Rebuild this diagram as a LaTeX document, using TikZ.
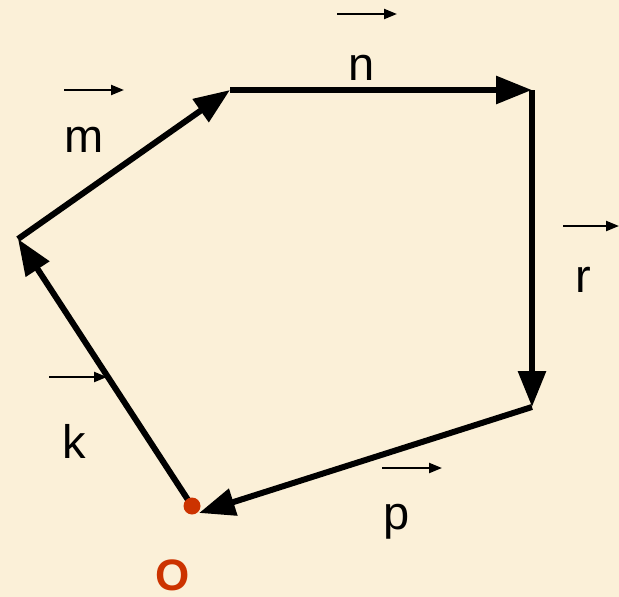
\documentclass[tikz,border=0pt]{standalone}
\usepackage{fontspec}
\setmainfont{Liberation Sans}
\usetikzlibrary{arrows.meta}
\definecolor{bgc}{HTML}{FBF0D8}
\definecolor{ored}{HTML}{CC3300}
\begin{document}
\begin{tikzpicture}[x=1pt,y=-1pt,
  vec/.style={line width=6pt,-{Triangle[length=36pt,width=27pt]}},
  small/.style={line width=2.2pt,-{Triangle[length=13pt,width=10pt]}},
  lbl/.style={inner sep=0pt,font=\fontsize{47}{50}\selectfont}]
\fill[bgc] (0,0) rectangle (619,597);
\useasboundingbox (0,0) rectangle (619,597);
\coordinate (O) at (192,506);
\coordinate (A) at (18,239);
\coordinate (B) at (230,90);
\coordinate (C) at (532,90);
\coordinate (D) at (532,407);
\coordinate (P) at (199,513);
\draw[vec] (O) -- (A);
\draw[vec] (A) -- (B);
\draw[vec] (B) -- (C);
\draw[vec] (C) -- (D);
\draw[vec] (D) -- (P);
\fill[ored] (O) circle (8.5pt);
% labels
\node[lbl] (ln) at (362,67.5) {n};
\node[lbl] (lm) at (84,140) {m};
\node[lbl] (lr) at (583,280) {r};
\node[lbl] (lk) at (74,441.5) {k};
\node[lbl] (lp) at (397,522) {p};
\node[inner sep=0pt,text=ored,font=\fontsize{44}{48}\selectfont\bfseries] (lo) at (173,575) {O};
% small arrows
\coordinate (n1) at (337,14); \coordinate (n2) at (397,14);
\coordinate (m1) at (64,90); \coordinate (m2) at (124,90);
\coordinate (r1) at (563,226); \coordinate (r2) at (619,226);
\coordinate (k1) at (49,377); \coordinate (k2) at (107,377);
\coordinate (p1) at (382,468); \coordinate (p2) at (442,468);
\draw[small] (n1) -- (n2);
\draw[small] (m1) -- (m2);
\draw[small] (r1) -- (r2);
\draw[small] (k1) -- (k2);
\draw[small] (p1) -- (p2);
\end{tikzpicture}
\end{document}
